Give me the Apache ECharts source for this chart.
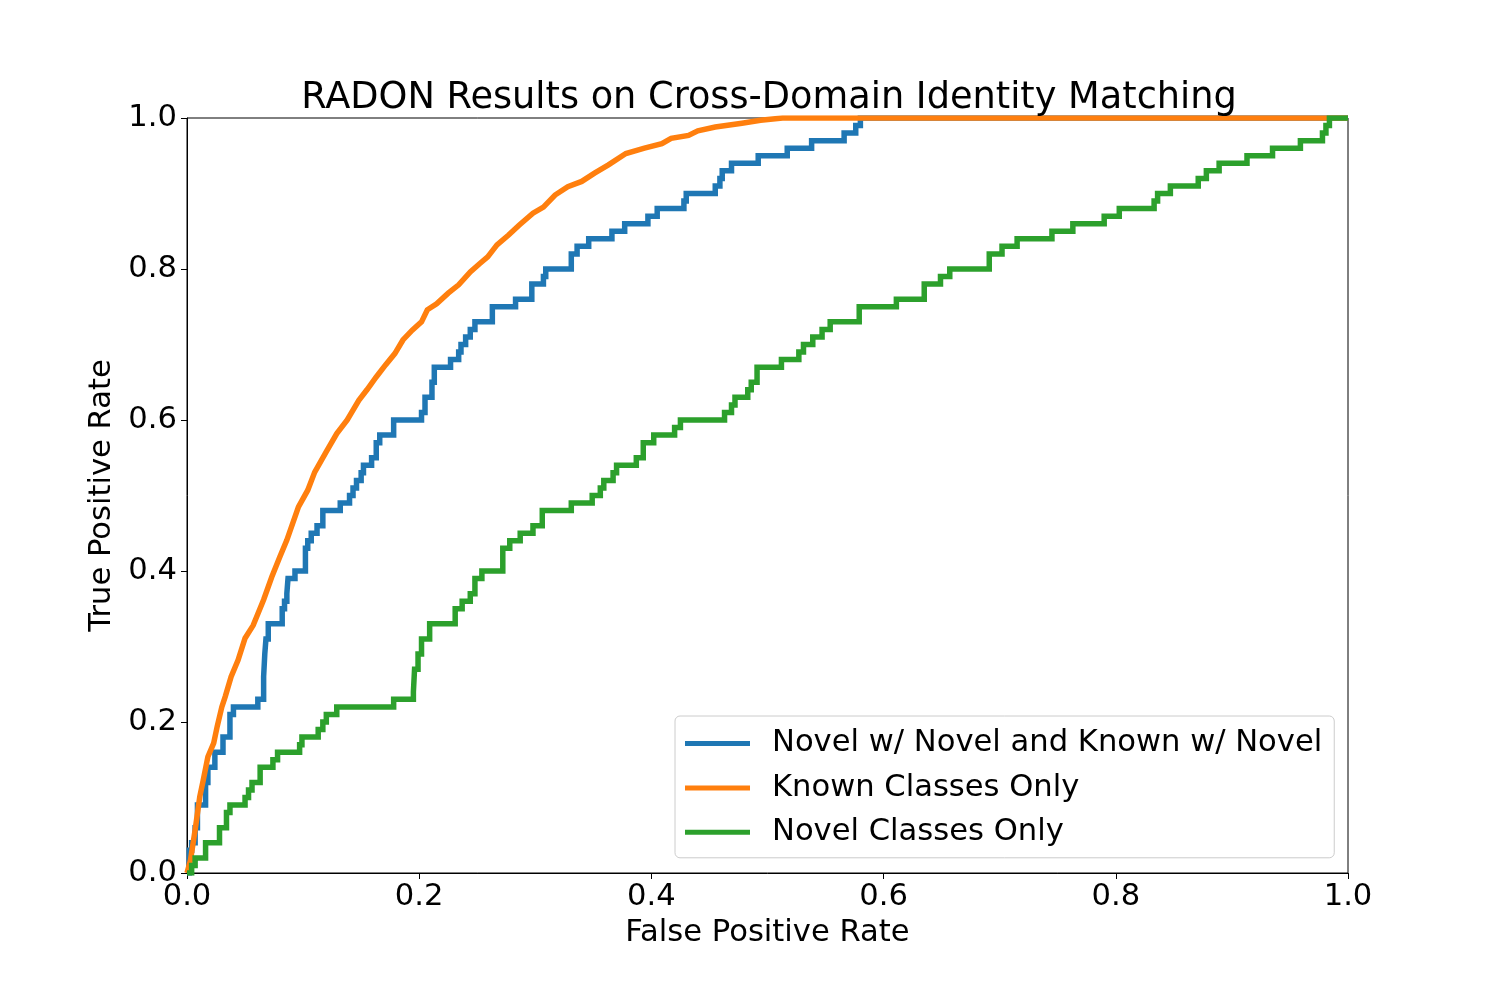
<!DOCTYPE html>
<html>
<head>
<meta charset="utf-8">
<script src="https://cdn.jsdelivr.net/npm/echarts@6/dist/echarts.min.js"></script>
<style>
  html, body { margin: 0; padding: 0; background: #fff; }
  #chart { width: 1498px; height: 982px; }
</style>
</head>
<body>
<div id="chart"></div>
<script>
// ROC points: [false positive rate, true positive rate]
var seriesNames = ['Novel w/ Novel and Known w/ Novel', 'Known Classes Only', 'Novel Classes Only'];
var xTicks = [0, 0.2, 0.4, 0.6, 0.8, 1.0];

// blue: step points (rise happens at given fpr)
var novelKnownRoc = [
  [0,0],[0.002,0.03],[0.004,0.04],[0.007,0.06],[0.009,0.09],[0.016,0.12],[0.018,0.14],
  [0.024,0.16],[0.031,0.18],[0.037,0.21],[0.040,0.22],[0.061,0.23],[0.066,0.26],[0.067,0.29],
  [0.068,0.31],[0.070,0.33],[0.082,0.35],[0.084,0.36],[0.086,0.37],[0.087,0.39],[0.093,0.40],
  [0.102,0.43],[0.104,0.44],[0.107,0.45],[0.112,0.46],[0.117,0.48],[0.132,0.49],[0.140,0.50],
  [0.143,0.51],[0.146,0.52],[0.150,0.53],[0.152,0.54],[0.159,0.55],[0.163,0.57],[0.166,0.58],
  [0.178,0.60],[0.202,0.61],[0.205,0.63],[0.211,0.65],[0.213,0.67],[0.227,0.68],[0.234,0.69],
  [0.236,0.70],[0.240,0.71],[0.244,0.72],[0.248,0.73],[0.263,0.75],[0.283,0.76],[0.297,0.78],
  [0.307,0.79],[0.309,0.80],[0.331,0.82],[0.336,0.83],[0.346,0.84],[0.366,0.85],[0.377,0.86],
  [0.397,0.87],[0.405,0.88],[0.428,0.89],[0.430,0.90],[0.455,0.91],[0.459,0.92],[0.461,0.93],
  [0.469,0.94],[0.492,0.95],[0.517,0.96],[0.538,0.97],[0.566,0.98],[0.576,0.99],[0.580,1.0],
  [1.0,1.0]
];

// orange: dense curve, traced
var knownRoc = [
  [0,0],[0.003,0.017],[0.007,0.057],[0.011,0.101],[0.014,0.123],[0.018,0.154],[0.023,0.172],
  [0.026,0.194],[0.030,0.220],[0.033,0.234],[0.038,0.260],[0.044,0.282],[0.050,0.311],
  [0.057,0.328],[0.066,0.362],[0.073,0.392],[0.080,0.419],[0.086,0.441],[0.096,0.485],
  [0.104,0.507],[0.110,0.531],[0.120,0.558],[0.129,0.582],[0.138,0.600],[0.148,0.626],
  [0.155,0.640],[0.163,0.657],[0.171,0.673],[0.179,0.688],[0.186,0.706],[0.194,0.719],
  [0.202,0.730],[0.207,0.746],[0.215,0.754],[0.225,0.768],[0.234,0.779],[0.244,0.796],
  [0.252,0.807],[0.259,0.816],[0.267,0.832],[0.277,0.845],[0.286,0.858],[0.298,0.874],
  [0.307,0.882],[0.317,0.898],[0.328,0.909],[0.340,0.916],[0.351,0.927],[0.363,0.938],
  [0.378,0.953],[0.394,0.960],[0.409,0.966],[0.417,0.973],[0.432,0.977],[0.440,0.983],
  [0.455,0.988],[0.478,0.993],[0.494,0.997],[0.513,1.0],[1.0,1.0]
];

// green: step points
var novelRoc = [
  [0,0],[0.004,0.01],[0.007,0.02],[0.016,0.04],[0.028,0.06],[0.034,0.08],[0.037,0.09],
  [0.050,0.10],[0.053,0.11],[0.056,0.12],[0.063,0.14],[0.074,0.15],[0.078,0.16],[0.097,0.17],
  [0.099,0.18],[0.113,0.19],[0.117,0.20],[0.120,0.21],[0.129,0.22],[0.178,0.23],[0.195,0.24],
  [0.196,0.27],[0.199,0.29],[0.202,0.31],[0.209,0.33],[0.231,0.35],[0.237,0.36],[0.244,0.37],
  [0.248,0.39],[0.254,0.40],[0.272,0.43],[0.278,0.44],[0.287,0.45],[0.298,0.46],[0.306,0.48],
  [0.331,0.49],[0.349,0.50],[0.356,0.51],[0.359,0.52],[0.367,0.53],[0.370,0.54],[0.387,0.55],
  [0.393,0.57],[0.402,0.58],[0.420,0.59],[0.425,0.60],[0.463,0.61],[0.469,0.62],[0.472,0.63],
  [0.483,0.64],[0.486,0.65],[0.491,0.67],[0.512,0.68],[0.527,0.69],[0.531,0.70],[0.539,0.71],
  [0.547,0.72],[0.554,0.73],[0.579,0.75],[0.611,0.76],[0.635,0.78],[0.649,0.79],[0.657,0.80],
  [0.691,0.82],[0.702,0.83],[0.715,0.84],[0.745,0.85],[0.763,0.86],[0.790,0.87],[0.803,0.88],
  [0.833,0.89],[0.836,0.90],[0.847,0.91],[0.871,0.92],[0.878,0.93],[0.889,0.94],[0.913,0.95],
  [0.935,0.96],[0.959,0.97],[0.978,0.98],[0.981,0.99],[0.984,1.0],[1.0,1.0]
];

var font = 'DejaVu Sans';
var colors = ['#1f77b4', '#ff7f0e', '#2ca02c'];

function lineSeries(name, data, color, step) {
  return {
    name: name,
    type: 'line',
    data: data,
    step: step,
    symbol: 'none',
    showSymbol: false,
    animation: false,
    lineStyle: { width: 5.5, color: color, join: 'miter' },
    itemStyle: { color: color }
  };
}

var option = {
  backgroundColor: '#fff',
  animation: false,
  textStyle: { fontFamily: font },
  title: {
    text: 'RADON Results on Cross-Domain Identity Matching',
    left: 764,
    top: 75,
    textAlign: 'center',
    textStyle: { fontFamily: font, fontSize: 36.7, fontWeight: 'normal', color: '#000' }
  },
  grid: {
    left: 187, right: 150, top: 118, bottom: 109,
    show: true, borderColor: '#000', borderWidth: 1, backgroundColor: 'transparent'
  },
  legend: {
    data: seriesNames,
    orient: 'vertical',
    left: 675,
    top: 716,
    padding: [12, 12, 10, 10],
    itemGap: 13.4,
    itemWidth: 65,
    itemHeight: 5,
    icon: 'rect',
    backgroundColor: 'rgba(255,255,255,0.8)',
    borderColor: '#cccccc',
    borderWidth: 1,
    borderRadius: 5,
    textStyle: { fontFamily: font, fontSize: 30.6, color: '#000', padding: [0, 0, 0, 17] }
  },
  xAxis: {
    type: 'value',
    min: 0, max: 1, interval: 0.2,
    name: 'False Positive Rate',
    nameLocation: 'middle',
    nameGap: 43,
    nameTextStyle: { fontFamily: font, fontSize: 30.6, color: '#000' },
    axisLine: { show: true, lineStyle: { color: '#000', width: 1 } },
    axisTick: { show: true, length: 6, lineStyle: { color: '#000' } },
    axisLabel: {
      fontFamily: font, fontSize: 30.6, color: '#000', margin: 9,
      formatter: function (v) { return v.toFixed(1); }
    },
    splitLine: { show: false }
  },
  yAxis: {
    type: 'value',
    min: 0, max: 1, interval: 0.2,
    name: 'True Positive Rate',
    nameLocation: 'middle',
    nameGap: 62,
    nameTextStyle: { fontFamily: font, fontSize: 30.6, color: '#000' },
    axisLine: { show: true, lineStyle: { color: '#000', width: 1 } },
    axisTick: { show: true, length: 6, lineStyle: { color: '#000' } },
    axisLabel: {
      fontFamily: font, fontSize: 30.6, color: '#000', margin: 10,
      formatter: function (v) { return v.toFixed(1); }
    },
    splitLine: { show: false }
  },
  series: [
    lineSeries(seriesNames[0], novelKnownRoc, colors[0], 'end'),
    lineSeries(seriesNames[1], knownRoc, colors[1], false),
    lineSeries(seriesNames[2], novelRoc, colors[2], 'end')
  ]
};

var chart = echarts.init(document.getElementById('chart'));
chart.setOption(option);
</script>
</body>
</html>
